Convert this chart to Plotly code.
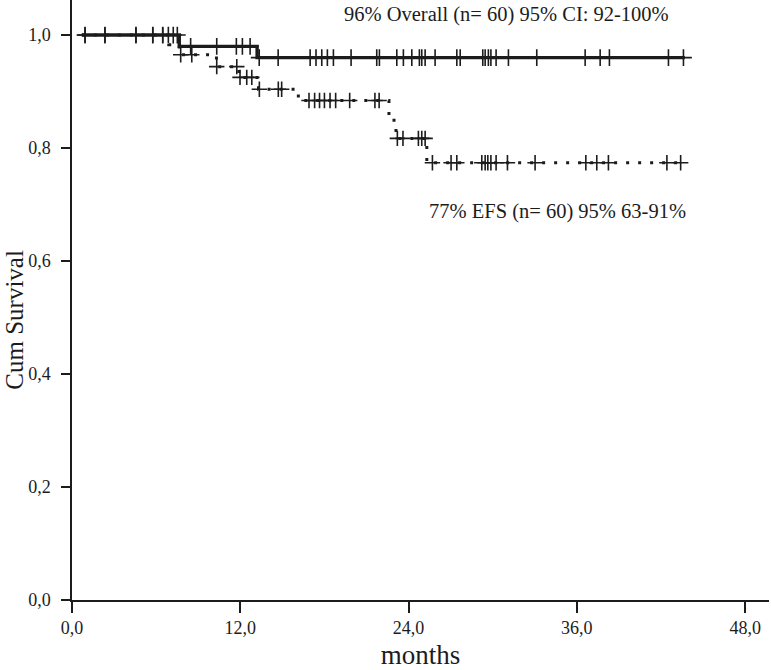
import plotly.graph_objects as go

# ---- data (months, cumulative survival) ----
os_event_times = [0.7, 7.65, 13.2]
os_survival = [1.0, 0.98, 0.96]
os_end = 43.7
os_censor_times = [0.93, 2.35, 4.56, 5.76, 6.47, 6.87, 7.22, 7.51,
                   8.46, 10.32, 11.72, 12.15, 12.7,
                   13.35, 14.7, 16.98, 17.4, 17.81, 18.21, 18.64, 19.9,
                   21.73, 21.92, 23.16, 23.63, 24.23, 24.77, 24.94, 25.18,
                   25.89, 27.44, 27.68, 29.29, 29.46, 29.69, 29.87, 30.24,
                   31.12, 33.14, 36.59, 37.66, 38.32, 42.53, 43.6]

efs_event_times = [0.7, 6.9, 7.65, 10.3, 11.9, 13.3, 16.14, 22.6, 23.1, 25.3]
efs_survival = [1.0, 0.983, 0.965, 0.944, 0.925, 0.904, 0.884, 0.849, 0.817, 0.774]
efs_end = 43.7
efs_censor_times = [0.93, 2.35, 4.56, 5.76, 6.47,
                    7.75, 8.54, 10.32, 11.75, 11.98, 12.46, 12.82,
                    13.36, 14.71, 14.95,
                    16.9, 17.3, 17.65, 18.0, 18.4, 18.8, 19.8, 21.6, 21.9,
                    23.2, 23.6, 24.7, 24.94, 25.18,
                    25.7, 27.03, 27.44, 29.22, 29.46, 29.65, 29.87, 30.24,
                    31.05, 33.02, 36.64, 37.42, 38.25, 42.42, 43.4]

x_ticks = [0, 12, 24, 36, 48]
y_ticks = [0.0, 0.2, 0.4, 0.6, 0.8, 1.0]

os_label = "96% Overall (n= 60) 95% CI: 92-100%"
efs_label = "77% EFS (n= 60) 95% 63-91%"
x_title = "months"
y_title = "Cum Survival"


def step_value(times, surv, t):
    v = surv[0]
    for ti, si in zip(times, surv):
        if t >= ti:
            v = si
    return v


INK = "#1c1c1c"
FONT = "Liberation Serif"

fig = go.Figure()

# EFS curve (dotted)
fig.add_trace(go.Scatter(
    x=efs_event_times + [efs_end], y=efs_survival + [efs_survival[-1]],
    mode="lines", line=dict(shape="hv", color=INK, width=3, dash="3px,9px"),
    hoverinfo="skip", showlegend=False))
fig.add_trace(go.Scatter(
    x=efs_censor_times,
    y=[step_value(efs_event_times, efs_survival, t) for t in efs_censor_times],
    mode="markers",
    marker=dict(symbol="cross-thin", size=11, line=dict(color=INK, width=1.6)),
    hoverinfo="skip", showlegend=False))

# Overall curve (solid)
fig.add_trace(go.Scatter(
    x=os_event_times + [os_end], y=os_survival + [os_survival[-1]],
    mode="lines", line=dict(shape="hv", color=INK, width=3.4),
    hoverinfo="skip", showlegend=False))
fig.add_trace(go.Scatter(
    x=os_censor_times,
    y=[step_value(os_event_times, os_survival, t) for t in os_censor_times],
    mode="markers",
    marker=dict(symbol="cross-thin", size=12, line=dict(color=INK, width=1.6)),
    hoverinfo="skip", showlegend=False))

fig.add_annotation(x=31.0, y=1.037, text=os_label, showarrow=False,
                   xanchor="center", yanchor="middle",
                   font=dict(family=FONT, size=20.5, color=INK))
fig.add_annotation(x=34.6, y=0.687, text=efs_label, showarrow=False,
                   xanchor="center", yanchor="middle",
                   font=dict(family=FONT, size=20.5, color=INK))
# y-axis title placed as a rotated annotation
fig.add_annotation(xref="paper", yref="paper", x=-0.1033, y=0.468,
                   text=y_title, textangle=-90, showarrow=False,
                   xanchor="left", yanchor="middle", borderpad=0,
                   font=dict(family=FONT, size=25, color=INK))

fig.update_layout(
    width=771, height=670,
    margin=dict(l=72, r=2, t=0, b=70),
    paper_bgcolor="white", plot_bgcolor="white",
    separators=",.",
    font=dict(family=FONT, color=INK),
    hovermode=False,
)
fig.update_xaxes(
    range=[0, 49.7], tickvals=x_ticks, tickformat=".1f",
    showline=True, linecolor=INK, linewidth=1.5, showgrid=False, zeroline=False,
    ticks="outside", ticklen=11, tickwidth=1.5, tickcolor=INK,
    tickfont=dict(family=FONT, size=18, color=INK),
    title=dict(text=x_title, font=dict(family=FONT, size=27, color=INK), standoff=8),
)
fig.update_yaxes(
    range=[0, 1.062], tickvals=y_ticks, tickformat=".1f",
    showline=True, linecolor=INK, linewidth=1.5, showgrid=False, zeroline=False,
    ticks="outside", ticklen=9, tickwidth=1.5, tickcolor=INK,
    ticklabelstandoff=7,
    tickfont=dict(family=FONT, size=18, color=INK),
)

fig.write_html("out.html", config={"displayModeBar": False},
               post_script="document.body.style.margin='0px';")
